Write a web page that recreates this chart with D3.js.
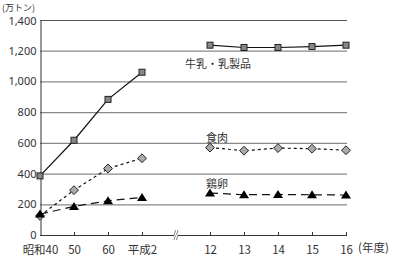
<!DOCTYPE html>
<html>
<head>
<meta charset="utf-8">
<script src="https://cdn.jsdelivr.net/npm/d3@7"></script>
<style>
  body { margin: 0; background: #fff; }
  text { font-family: "Noto Sans CJK JP", "Noto Sans", sans-serif; fill: #333; }
</style>
</head>
<body>
<svg id="chart" width="400" height="257"></svg>
<script>
// categories (the "break" slot sits between 平成2 and 12)
const leftYears = ["昭和40", "50", "60", "平成2"];
const rightYears = ["12", "13", "14", "15", "16"];
const breakKey = "break";

// values in 万トン
const milkLeft = [385, 617, 883, 1060];
const milkRight = [1236, 1221, 1221, 1227, 1236];
const meatLeft = [125, 292, 433, 500];
const meatRight = [569, 549, 566, 562, 552];
const eggLeft = [136, 186, 223, 245];
const eggRight = [273, 262, 264, 262, 260];

const yTicks = [0, 200, 400, 600, 800, 1000, 1200, 1400];

const svg = d3.select("#chart");

const x = d3.scalePoint()
    .domain([...leftYears, breakKey, ...rightYears])
    .range([40, 346]);

const y = d3.scaleLinear()
    .domain([0, 1400])
    .range([235, 20]);

// gridlines
svg.append("g")
    .selectAll("line")
    .data(yTicks.filter(d => d > 0))
    .enter().append("line")
    .attr("x1", 40)
    .attr("x2", 347)
    .attr("y1", d => y(d) + 0.5)
    .attr("y2", d => y(d) + 0.5)
    .attr("stroke", d => d === 1400 ? "#555" : "#888")
    .attr("stroke-width", 1.2);

// y axis
const yAxis = svg.append("g")
    .attr("transform", "translate(40.5,0)")
    .call(d3.axisLeft(y).tickValues(yTicks).tickSize(0).tickPadding(4).tickFormat(d3.format(",")));
yAxis.select(".domain").attr("stroke", "#333");
yAxis.selectAll("text")
    .style("font-family", "'Noto Sans', sans-serif")
    .style("font-size", "11px")
    .style("fill", "#333");
yAxis.selectAll("text").filter(d => d === 1400).attr("dy", "0.45em");

// x axis
const xAxis = svg.append("g")
    .attr("transform", "translate(0,235.5)")
    .call(d3.axisBottom(x).tickSize(0).tickPadding(10).tickFormat(d => d === breakKey ? "" : d));
xAxis.select(".domain").attr("stroke", "#333").attr("d", "M40,0H347");
xAxis.selectAll("text").style("font-size", "11.5px").style("fill", "#333");

// little upward ticks
svg.append("g")
    .selectAll("line")
    .data([...leftYears.slice(1), ...rightYears])
    .enter().append("line")
    .attr("x1", d => x(d) + 0.5)
    .attr("x2", d => x(d) + 0.5)
    .attr("y1", 235)
    .attr("y2", 232)
    .attr("stroke", "#333");

// break mark
const bx = x(breakKey);
const brk = svg.append("g").attr("transform", `translate(${bx},235)`);
brk.append("rect").attr("x", -2).attr("y", -1).attr("width", 4).attr("height", 2).attr("fill", "#fff");
[-1.2, 1.2].forEach(dx => {
    brk.append("path")
        .attr("d", `M${dx},-5 C${dx + 2},-3 ${dx - 2},-1 ${dx},0 C${dx + 2},1 ${dx - 2},3 ${dx},5`)
        .attr("fill", "none")
        .attr("stroke", "#555")
        .attr("stroke-width", 0.8);
});

const line = d3.line().x(d => x(d[0])).y(d => y(d[1]));

const series = [
    { left: milkLeft, right: milkRight, dash: null, marker: "square" },
    { left: meatLeft, right: meatRight, dash: "3,3", marker: "diamond" },
    { left: eggLeft, right: eggRight, dash: "8,5", marker: "triangle" }
];

series.forEach(s => {
    const l = leftYears.map((c, i) => [c, s.left[i]]);
    const r = rightYears.map((c, i) => [c, s.right[i]]);
    [l, r].forEach(pts => {
        svg.append("path")
            .attr("d", line(pts))
            .attr("fill", "none")
            .attr("stroke", "#111")
            .attr("stroke-width", 1.2)
            .attr("stroke-dasharray", s.dash);
    });
    const pts = [...l, ...r];
    const g = svg.append("g");
    if (s.marker === "square") {
        g.selectAll("rect").data(pts).enter().append("rect")
            .attr("x", d => x(d[0]) - 3)
            .attr("y", d => y(d[1]) - 3)
            .attr("width", 6)
            .attr("height", 6)
            .attr("fill", "#888")
            .attr("stroke", "#222")
            .attr("stroke-width", 1);
    } else if (s.marker === "diamond") {
        g.selectAll("path").data(pts).enter().append("path")
            .attr("d", d3.symbol(d3.symbolDiamond2, 50))
            .attr("transform", d => `translate(${x(d[0])},${y(d[1])})`)
            .attr("fill", "#aaa")
            .attr("stroke", "#222")
            .attr("stroke-width", 1);
    } else {
        g.selectAll("path").data(pts).enter().append("path")
            .attr("d", "M0,-4.5L5,3.5L-5,3.5Z")
            .attr("transform", d => `translate(${x(d[0])},${y(d[1])})`)
            .attr("fill", "#000");
    }
});

// labels
svg.append("text").attr("x", 2).attr("y", 10.5).style("font-size", "9px").text("(万トン)");
svg.append("text").attr("x", 358).attr("y", 252).style("font-size", "11.5px").text("(年度)");
svg.append("text").attr("x", 185).attr("y", 68).style("font-size", "11px").text("牛乳・乳製品");
svg.append("text").attr("x", 206).attr("y", 142).style("font-size", "11px").text("食肉");
svg.append("text").attr("x", 206).attr("y", 188).style("font-size", "11px").text("鶏卵");
</script>
</body>
</html>
